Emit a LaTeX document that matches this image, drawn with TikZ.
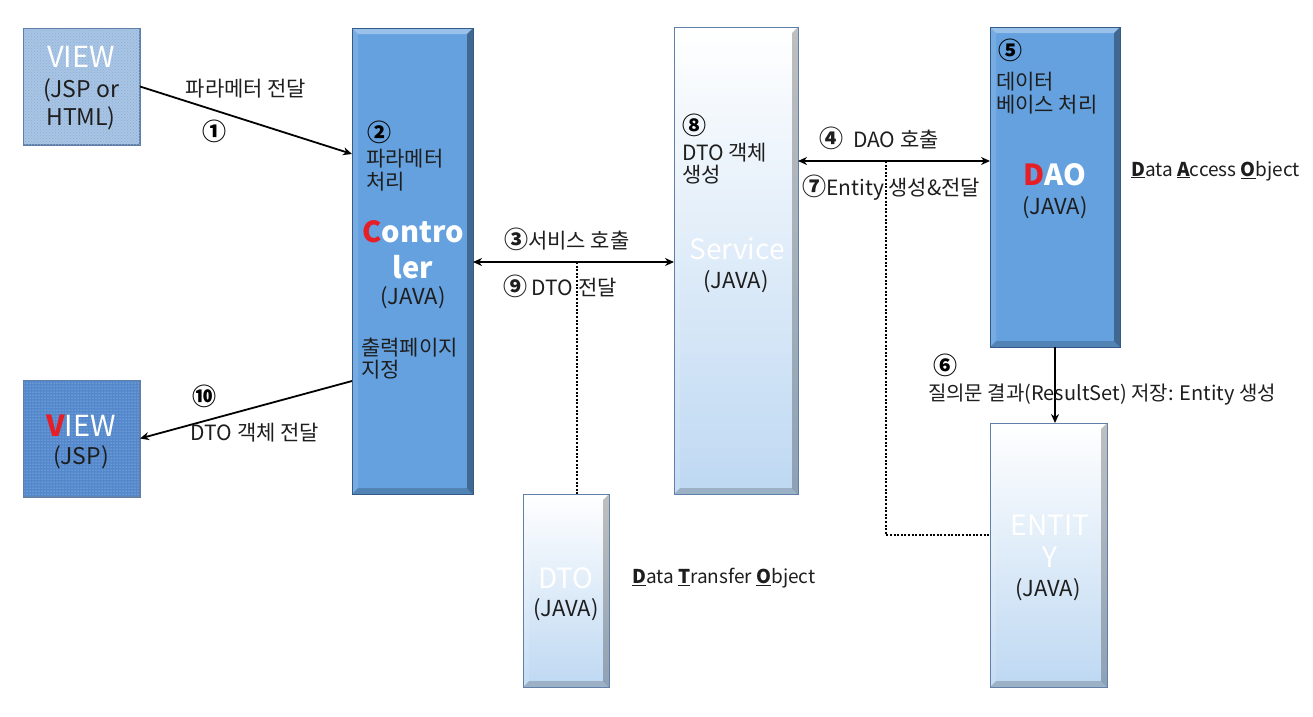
\documentclass[tikz,border=0pt]{standalone}
\usepackage{fontspec}
\setmainfont{Noto Sans CJK KR}
\usetikzlibrary{arrows.meta,patterns,calc}
\definecolor{midblue}{RGB}{100,161,222}
\definecolor{midborder}{RGB}{52,90,138}
\definecolor{lightbot}{RGB}{190,216,242}
\definecolor{lightmid}{RGB}{228,240,252}
\definecolor{lightborder}{RGB}{96,128,170}
\definecolor{viewa}{RGB}{168,197,229}
\definecolor{viewadot}{RGB}{140,172,210}
\definecolor{viewb}{RGB}{84,136,204}
\definecolor{viewbdot}{RGB}{190,214,242}
\definecolor{txt}{RGB}{30,30,30}
\definecolor{redc}{RGB}{230,30,38}
\newcommand\cnum[1]{{\fontsize{24}{24}\selectfont\bfseries #1}}
\tikzset{
  bevel/.style={path picture={
    \coordinate (pnw) at (path picture bounding box.north west);
    \coordinate (pne) at (path picture bounding box.north east);
    \coordinate (psw) at (path picture bounding box.south west);
    \coordinate (pse) at (path picture bounding box.south east);
    \fill[white,opacity=0.35] (pnw) -- (pne) -- ([xshift=-6pt,yshift=-6pt]pne) -- ([xshift=6pt,yshift=-6pt]pnw) -- cycle;
    \fill[black,opacity=#1] (pne) -- (pse) -- ([xshift=-6pt,yshift=6pt]pse) -- ([xshift=-6pt,yshift=-6pt]pne) -- cycle;
    \fill[black,opacity=0.18] (psw) -- (pse) -- ([xshift=-6pt,yshift=6pt]pse) -- ([xshift=6pt,yshift=6pt]psw) -- cycle;
    \fill[white,opacity=0.12] (pnw) -- (psw) -- ([xshift=6pt,yshift=6pt]psw) -- ([xshift=6pt,yshift=-6pt]pnw) -- cycle;
  }},
  midbox/.style={draw=midborder, line width=1pt, fill=midblue, bevel=0.35, anchor=north west, inner sep=0pt, outer sep=0pt},
  lightbox/.style={draw=lightborder, line width=1pt, top color=white, middle color=lightmid, bottom color=lightbot, bevel=0.25, anchor=north west, inner sep=0pt, outer sep=0pt},
  lbl/.style={font=\fontsize{21}{24}\selectfont, inner sep=0pt, text=txt},
  num/.style={font=\fontsize{24}{24}\selectfont\bfseries, inner sep=0pt, text=black},
  java/.style={font=\fontsize{22}{24}\selectfont, inner sep=0pt, text=txt},
  big/.style={font=\fontsize{28}{30}\selectfont, inner sep=0pt, text=white},
  bigb/.style={font=\fontsize{29}{31}\selectfont\bfseries, inner sep=0pt, text=white},
  arr/.style={line width=1.8pt, -{Stealth[length=9pt,width=8pt]}},
  darr/.style={line width=1.8pt, {Stealth[length=9pt,width=8pt]}-{Stealth[length=9pt,width=8pt]}},
  dotline/.style={line width=2pt, dash pattern=on 2pt off 1.6pt, black},
}
\begin{document}
\begin{tikzpicture}[x=1pt,y=-1pt]
\useasboundingbox[fill=white] (0,0) rectangle (1313,716);

% level coordinates
\coordinate (y154) at (0,154);
\coordinate (y381) at (0,381);
\coordinate (y262) at (0,262);
\coordinate (y161) at (0,161);
\coordinate (x1055) at (1055,0);

% boxes
\node[draw=lightborder, line width=1pt, fill=viewa, anchor=north west, inner sep=0pt, minimum width=116pt, minimum height=116pt] (view1) at (23,28) {};
\fill[pattern=crosshatch dots, pattern color=viewadot] (view1.north west) rectangle (view1.south east);
\node[draw=lightborder, line width=1pt, fill=viewb, anchor=north west, inner sep=0pt, minimum width=116pt, minimum height=116pt] (view2) at (23,380) {};
\fill[pattern=dots, pattern color=viewbdot] (view2.north west) rectangle (view2.south east);
\draw[lightborder, line width=1pt] (view1.north west) rectangle (view1.south east);
\draw[lightborder, line width=1pt] (view2.north west) rectangle (view2.south east);

\node[midbox, minimum width=121pt, minimum height=466pt] (ctrl) at (352,28) {};
\node[lightbox, minimum width=124pt, minimum height=467pt] (svc) at (674,27) {};
\node[midbox, minimum width=130pt, minimum height=320pt] (dao) at (990,27) {};
\node[lightbox, minimum width=86pt, minimum height=193pt] (dto) at (523,494) {};
\node[lightbox, minimum width=117pt, minimum height=264pt] (ent) at (990,423) {};

% VIEW top
\node[font=\fontsize{29}{31}\selectfont, text=white, inner sep=0pt] (v1t) at (81,57) {VIEW};
\node[font=\fontsize{23}{25}\selectfont, text=txt, inner sep=0pt] (v1a) at (81,90) {(JSP or};
\node[font=\fontsize{23}{25}\selectfont, text=txt, inner sep=0pt] (v1b) at (81,118) {HTML)};

% VIEW bottom
\node[font=\fontsize{29}{31}\selectfont, text=white, inner sep=0pt] (v2t) at (81,426) {\textcolor{redc}{\bfseries V}IEW};
\node[font=\fontsize{23}{25}\selectfont, text=txt, inner sep=0pt] (v2a) at (81,457) {(JSP)};

% Controller texts
\node[num, anchor=west] (n2) at (367,132) {②};
\node[lbl, anchor=west] (c1) at (366,159) {파라메터};
\node[lbl, anchor=west] (c2) at (366,182) {처리};
\node[bigb] (c3) at (413,232) {\textcolor{redc}{C}ontro};
\node[bigb] (c4) at (413,267) {ler};
\node[java] (c5) at (413,298) {(JAVA)};
\node[lbl, anchor=west] (c6) at (361,348) {출력페이지};
\node[lbl, anchor=west] (c7) at (361,370) {지정};

% Service texts
\node[num, anchor=west] (n8) at (682,125) {⑧};
\node[lbl, anchor=west] (s1) at (682,153) {DTO 객체};
\node[lbl, anchor=west] (s2) at (682,175) {생성};
\node[big] (s3) at (737,249) {Service};
\node[java] (s4) at (736,282) {(JAVA)};

% DAO texts
\node[num] (n5) at (1010,50) {⑤};
\node[lbl, anchor=west] (d1) at (996,82) {데이터};
\node[lbl, anchor=west] (d2) at (996,105) {베이스 처리};
\node[bigb] (d3) at (1055,175) {\textcolor{redc}{D}AO};
\node[java] (d4) at (1055,208) {(JAVA)};
\node[font=\fontsize{19}{22}\selectfont, text=txt, inner sep=0pt, anchor=west] (daol) at (1131,171) {\underline{\textbf{D}}ata \underline{\textbf{A}}ccess \underline{\textbf{O}}bject};

% DTO texts
\node[big] (t1) at (566,578) {DTO};
\node[java] (t2) at (566,610) {(JAVA)};
\node[font=\fontsize{19}{22}\selectfont, text=txt, inner sep=0pt, anchor=west] (dtol) at (632,578) {\underline{\textbf{D}}ata \underline{\textbf{T}}ransfer \underline{\textbf{O}}bject};

% ENTITY texts
\node[big] (e1) at (1050,525) {ENTIT};
\node[big] (e2) at (1050,557) {Y};
\node[java] (e3) at (1048,590) {(JAVA)};

% connectors
\draw[arr] (view1.east) -- (ctrl.west |- y154);
\node[lbl] (l1) at (246,89) {파라메터 전달};
\node[num] (n1) at (214,131) {①};

\draw[arr] (ctrl.west |- y381) -- (view2.east);
\node[num] (n10) at (204,396) {⑩};
\node[lbl] (l10) at (255,433) {DTO 객체 전달};

\draw[darr] (ctrl.east |- y262) -- (svc.west |- y262);
\node[lbl, anchor=west] (l3) at (504,239) {\cnum{③}서비스 호출};
\node[lbl, anchor=west] (l9) at (503,286) {\cnum{⑨} DTO 전달};
\coordinate (k3) at (577,262);
\draw[dotline] (k3) -- (k3 |- dto.north);

\draw[darr] (svc.east |- y161) -- (dao.west |- y161);
\node[lbl, anchor=west] (l4) at (819,138) {\cnum{④}\hspace{10pt}DAO 호출};
\node[lbl, anchor=west] (l7) at (802,188) {\cnum{⑦}Entity 생성\&전달};
\coordinate (k4) at (886,161);
\draw[dotline] (k4) |- ([yshift=20pt]ent.west);

\draw[arr] (x1055 |- dao.south) -- (x1055 |- ent.north);
\node[num] (n6) at (945,365) {⑥};
\node[font=\fontsize{20}{22}\selectfont, inner sep=0pt, text=txt] (l6) at (1102,395) {질의문 결과(ResultSet) 저장: Entity 생성};

\end{tikzpicture}
\end{document}
